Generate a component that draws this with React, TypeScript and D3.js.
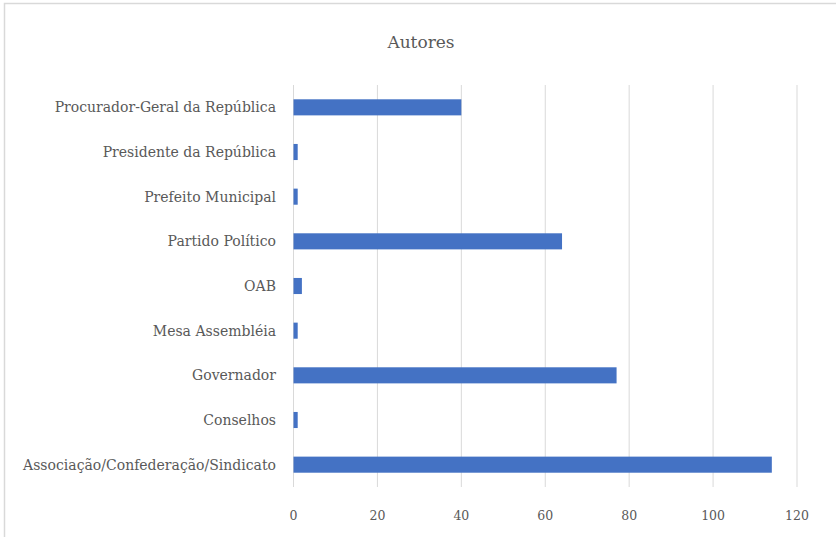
import React from "react";
import * as d3 from "d3";

const categories = [
  "Procurador-Geral da República",
  "Presidente da República",
  "Prefeito Municipal",
  "Partido Político",
  "OAB",
  "Mesa Assembléia",
  "Governador",
  "Conselhos",
  "Associação/Confederação/Sindicato",
];
const values = [40, 1, 1, 64, 2, 1, 77, 1, 114];
const xTicks = [0, 20, 40, 60, 80, 100, 120];
const title = "Autores";

const W = 836;
const H = 537;
const FONT = "'DejaVu Serif', serif";
const TEXT = "#595959";

export default function App() {
  const x = d3.scaleLinear().domain([0, 120]).range([293.5, 797]);
  const y = d3.scaleBand().domain(categories).range([85, 487]).paddingInner(0.64).paddingOuter(0.32);
  return (
    <svg width={W} height={H} style={{ position: "absolute", left: 0, top: 0, background: "#fff" }}>
      <rect x={4.5} y={3.5} width={900} height={700} fill="#fff" stroke="#d9d9d9" strokeWidth={1.5} />
      <text x={421} y={48} textAnchor="middle" fontFamily={FONT} fontSize={17} fill={TEXT}>{title}</text>
      {xTicks.map((t) => (
        <g key={t}>
          <line x1={x(t)} x2={x(t)} y1={85} y2={487} stroke="#d9d9d9" strokeWidth={1} />
          <text x={x(t)} y={520} textAnchor="middle" fontFamily={FONT} fontSize={12.5} fill={TEXT}>{t}</text>
        </g>
      ))}
      {categories.map((c, i) => (
        <g key={c}>
          <rect x={x(0)} y={y(c)!} width={x(values[i]) - x(0)} height={y.bandwidth()} fill="#4472c4" />
          <text x={276} y={y(c)! + y.bandwidth() / 2} dy="0.35em" textAnchor="end" fontFamily={FONT} fontSize={14} fill={TEXT}>{c}</text>
        </g>
      ))}
    </svg>
  );
}
